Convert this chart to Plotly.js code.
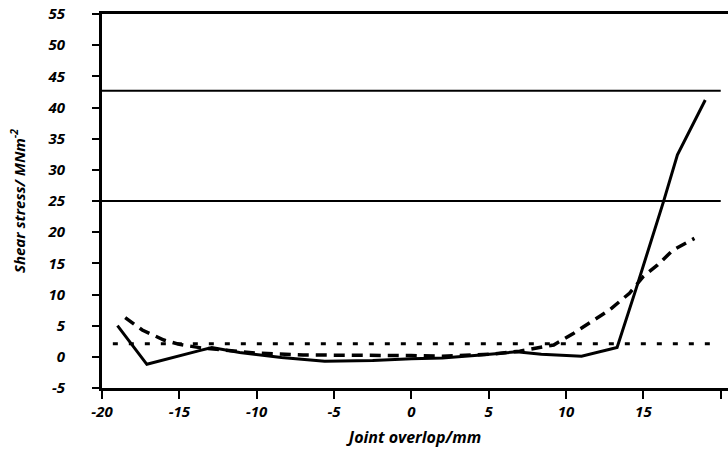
<!DOCTYPE html>
<html>
<head>
<meta charset="utf-8">
<script src="https://cdn.plot.ly/plotly-3.0.1.min.js"></script>
<style>
  html, body { margin: 0; padding: 0; background: #fff; }
  #chart { width: 728px; height: 449px; }
</style>
</head>
<body>
<div id="chart"></div>
<script>
// Shear stress along the joint overlap, three loading cases
const solidX = [-19.0, -17.1, -13.7, -12.9, -11.1, -8.4, -5.6, -2.5, 0.0, 2.0, 4.5, 6.8, 8.4, 11.0, 13.3, 14.5, 16.3, 17.2, 19.0];
const solidY = [5.0, -1.2, 1.0, 1.5, 0.7, -0.1, -0.7, -0.6, -0.3, -0.2, 0.3, 0.8, 0.4, 0.1, 1.5, 10.7, 24.9, 32.4, 41.2];

const dashX = [-18.5, -17.4, -16.0, -15.0, -13.5, -12.0, -10.0, -7.0, -3.5, 0.0, 2.0, 5.0, 7.0, 8.0, 9.2, 10.5, 11.5, 12.8, 14.1, 15.0, 15.9, 16.9, 18.3];
const dashY = [6.3, 4.3, 2.7, 2.0, 1.4, 1.0, 0.6, 0.3, 0.3, 0.2, 0.1, 0.4, 0.9, 1.4, 1.9, 3.8, 5.4, 7.5, 10.2, 12.9, 14.7, 17.1, 19.0];

const dotX = [-19.3, -10.0, 0.0, 10.0, 20.0];
const dotY = [2.1, 2.1, 2.1, 2.1, 2.1];

// horizontal reference levels across the chart
const refLevels = [42.7, 25.0];

const xTicks = [-20, -15, -10, -5, 0, 5, 10, 15, 20];
const xTickLabels = ['-20', '-15', '-10', '-5', '0', '5', '10', '15', '20'];
const yTicks = [-5, 0, 5, 10, 15, 20, 25, 30, 35, 40, 45, 50, 55];
const yTickLabels = ['-5', '0', '5', '10', '15', '20', '25', '30', '35', '40', '45', '50', '55'];

const baseFont = { family: '"Open Sans", "Noto Sans", sans-serif', color: '#000', weight: 700, style: 'italic' };

const traces = [
  { x: dotX, y: dotY, mode: 'lines', line: { color: '#000', width: 3, dash: '5px,11px' }, hoverinfo: 'skip' },
  { x: dashX, y: dashY, mode: 'lines', line: { color: '#000', width: 3.5, dash: '11px,7px' }, hoverinfo: 'skip' },
  { x: solidX, y: solidY, mode: 'lines', line: { color: '#000', width: 3 }, hoverinfo: 'skip' }
];

const shapes = refLevels.map(v => ({
  type: 'line', xref: 'x', yref: 'y', x0: -20, x1: 20, y0: v, y1: v,
  line: { color: '#000', width: 2 }
}));

const layout = {
  width: 728, height: 449,
  margin: { l: 102, r: 0, t: 14, b: 61 },
  paper_bgcolor: '#fff', plot_bgcolor: '#fff',
  showlegend: false,
  shapes: shapes,
  xaxis: {
    range: [-20, 20.47],
    tickmode: 'array', tickvals: xTicks, ticktext: xTickLabels,
    showgrid: false, zeroline: false,
    showline: true, linecolor: '#000', linewidth: 3, mirror: true,
    ticks: 'outside', ticklen: 8, tickwidth: 2, tickcolor: '#000',
    tickfont: Object.assign({ size: 15 }, baseFont),
    title: { text: 'Joint overlop/mm', font: Object.assign({ size: 16 }, baseFont), standoff: 12 }
  },
  yaxis: {
    range: [-5, 55],
    tickmode: 'array', tickvals: yTicks, ticktext: yTickLabels,
    showgrid: false, zeroline: false,
    showline: true, linecolor: '#000', linewidth: 3,
    ticks: 'outside', ticklen: 7, tickwidth: 2, tickcolor: '#000',
    ticklabelstandoff: 24,
    tickfont: Object.assign({ size: 15 }, baseFont),
    title: { text: 'Shear stress/ MNm<sup>-2</sup>', font: Object.assign({ size: 15 }, baseFont), standoff: 19 }
  }
};

Plotly.newPlot('chart', traces, layout, { displayModeBar: false, staticPlot: true });
</script>
</body>
</html>
